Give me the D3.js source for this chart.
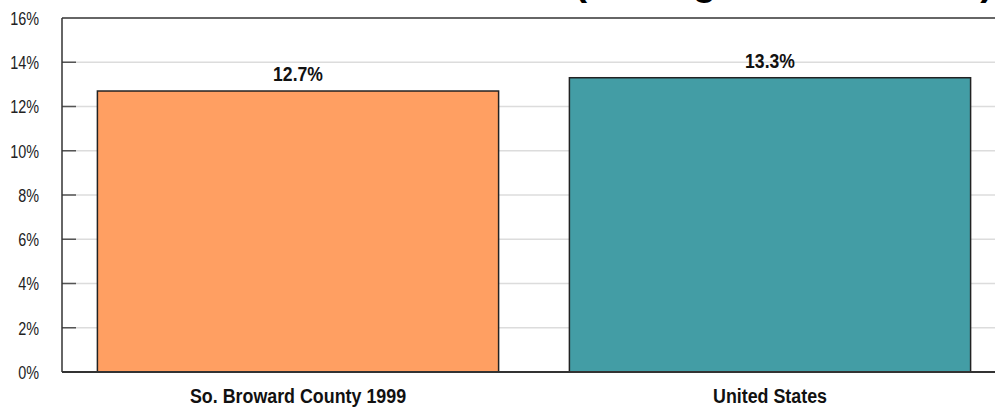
<!DOCTYPE html>
<html>
<head>
<meta charset="utf-8">
<script src="https://cdn.jsdelivr.net/npm/d3@7"></script>
<style>
  body { margin: 0; background: #fff; }
  svg text { font-family: "Liberation Sans", Arial, sans-serif; }
</style>
</head>
<body>
<div id="chart"></div>
<script>
// data
var categories = ["So. Broward County 1999", "United States"];
var values = [12.7, 13.3];
var barColors = ["#FF9F62", "#439DA5"];
var tickValues = [0, 2, 4, 6, 8, 10, 12, 14, 16];
var titleText = "(Average of 1997-1999)";

var width = 995, height = 409;
var margin = {left: 62, top: 18, bottom: 37};
var plotRight = 1006;

// squeeze text a bit so it looks like a narrow font
function narrow(sel, factor) {
  sel.each(function() {
    var len = this.getComputedTextLength();
    d3.select(this)
      .attr("textLength", len * factor)
      .attr("lengthAdjust", "spacingAndGlyphs");
  });
}

var svg = d3.select("#chart")
  .append("svg")
  .attr("width", width)
  .attr("height", height);

var x = d3.scaleBand()
  .domain(categories)
  .range([margin.left, plotRight])
  .paddingInner(0.15)
  .paddingOuter(0.075);

var y = d3.scaleLinear()
  .domain([0, 16])
  .range([height - margin.bottom, margin.top]);

// title, mostly cut off by the top of the picture
svg.append("text")
  .attr("x", 993)
  .attr("y", -5)
  .attr("text-anchor", "end")
  .style("font-weight", "bold")
  .style("font-size", "38.6px")
  .attr("fill", "#000")
  .text(titleText);

// gridlines
svg.append("g")
  .selectAll("line")
  .data(tickValues.filter(d => d > 0 && d < 16))
  .enter()
  .append("line")
  .attr("x1", margin.left)
  .attr("x2", width)
  .attr("y1", d => y(d))
  .attr("y2", d => y(d))
  .attr("stroke", "#dcdcdc")
  .attr("stroke-width", 1.5);

// y axis
var yAxis = d3.axisLeft(y)
  .tickValues(tickValues)
  .tickFormat(d => d + "%")
  .tickSize(0)
  .tickPadding(23);

var gy = svg.append("g")
  .attr("transform", "translate(" + margin.left + ",0)")
  .call(yAxis);
gy.select(".domain").remove();
gy.selectAll("text")
  .style("font-size", "18px")
  .style("font-family", "'Liberation Sans', Arial, sans-serif")
  .attr("fill", "#222")
  .attr("dy", "0.36em")
  .call(narrow, 0.8);

// inner tick marks
svg.append("g")
  .selectAll("line")
  .data(tickValues.filter(d => d > 0 && d < 16))
  .enter()
  .append("line")
  .attr("x1", margin.left)
  .attr("x2", margin.left + 14)
  .attr("y1", d => y(d))
  .attr("y2", d => y(d))
  .attr("stroke", "#555")
  .attr("stroke-width", 1.5);

// bars
svg.selectAll(".bar")
  .data(values)
  .enter()
  .append("rect")
  .attr("class", "bar")
  .attr("x", (d, i) => x(categories[i]))
  .attr("y", d => y(d))
  .attr("width", x.bandwidth())
  .attr("height", d => y(0) - y(d))
  .attr("fill", (d, i) => barColors[i])
  .attr("stroke", "#222")
  .attr("stroke-width", 1.5);

// value labels
svg.selectAll(".val")
  .data(values)
  .enter()
  .append("text")
  .attr("class", "val")
  .attr("x", (d, i) => x(categories[i]) + x.bandwidth() / 2)
  .attr("y", d => y(d) - 10)
  .attr("text-anchor", "middle")
  .style("font-weight", "bold")
  .style("font-size", "19.5px")
  .attr("fill", "#111")
  .text(d => d.toFixed(1) + "%")
  .call(narrow, 0.9);

// frame: left, top, bottom
svg.append("line")
  .attr("x1", margin.left).attr("x2", margin.left)
  .attr("y1", y(16)).attr("y2", y(0))
  .attr("stroke", "#333").attr("stroke-width", 1.5);
svg.append("line")
  .attr("x1", margin.left).attr("x2", width)
  .attr("y1", y(16)).attr("y2", y(16))
  .attr("stroke", "#333").attr("stroke-width", 1.5);
svg.append("line")
  .attr("x1", margin.left).attr("x2", width)
  .attr("y1", y(0)).attr("y2", y(0))
  .attr("stroke", "#333").attr("stroke-width", 2);

// category labels
var xAxis = d3.axisBottom(x).tickSize(0).tickPadding(0);
var gx = svg.append("g")
  .attr("transform", "translate(0," + y(0) + ")")
  .call(xAxis);
gx.select(".domain").remove();
gx.selectAll("text")
  .attr("y", 31)
  .attr("dy", null)
  .style("font-size", "19.5px")
  .style("font-family", "'Liberation Sans', Arial, sans-serif")
  .style("font-weight", "bold")
  .attr("fill", "#111")
  .call(narrow, 0.915);
</script>
</body>
</html>
